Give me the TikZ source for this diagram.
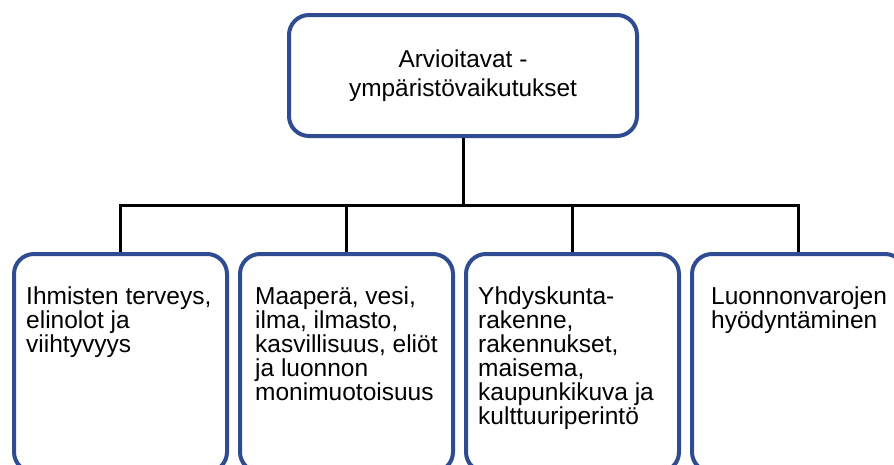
\documentclass[tikz,border=0pt]{standalone}
\usepackage{fontspec}
\setmainfont{Liberation Sans}
\usetikzlibrary{positioning}
\definecolor{boxblue}{RGB}{47,75,145}
\newcommand{\boxwidth}{213pt}
\newcommand{\boxheight}{218pt}
\tikzset{
    topbox/.style = { draw=boxblue, line width=4pt, rectangle, align=center,
        rounded corners=20pt, fill=white,
        minimum width=348pt, minimum height=121pt,
        font=\fontsize{24.4}{28.5}\selectfont
    },
    areabox/.style = { draw=boxblue, line width=4pt, rectangle,
        rounded corners=20pt, fill=white,
        node distance=9pt,
        minimum width=\boxwidth, minimum height=\boxheight
    },
    areatext/.style = { anchor=north west, inner sep=0pt, align=left,
        font=\fontsize{24.5}{24}\selectfont
    },
    link/.style = { line width=3pt, black }
}

\begin{document}
\begin{tikzpicture}[x=1pt,y=-1pt]
        \useasboundingbox (0,0) rectangle (894,464);

        \node[topbox] (arvio) at (463,75.5) {Arvioitavat -\\ympäristövaikutukset};

        % area boxes...
        \node[areabox] (b1) at (120.5,363) {};
        \node[areabox] (b2) [right = of b1] {};
        \node[areabox] (b3) [right = of b2] {};
        \node[areabox] (b4) [right = of b3] {};

        % texts...
        \node[areatext] (t1) at ([xshift=14pt,yshift=-35pt]b1.north west) {Ihmisten terveys,\\elinolot ja\\viihtyvyys};
        \node[areatext] (t2) at ([xshift=17pt,yshift=-35pt]b2.north west) {Maaperä, vesi,\\ilma, ilmasto,\\kasvillisuus, eliöt\\ja luonnon\\monimuotoisuus};
        \node[areatext] (t3) at ([xshift=14pt,yshift=-35pt]b3.north west) {Yhdyskunta-\\rakenne,\\rakennukset,\\maisema,\\kaupunkikuva ja\\kulttuuriperintö};
        \node[areatext] (t4) at ([xshift=21pt,yshift=-35pt]b4.north west) {Luonnonvarojen\\hyödyntäminen};

        % links...
        \path (arvio.south) ++(0,67) coordinate (bus);
        \draw[link] (arvio.south) -- (bus);
        \draw[link] (b1.north) |- (bus) -| (b4.north);
        \draw[link] (b2.north) -- (b2.north |- bus);
        \draw[link] (b3.north) -- (b3.north |- bus);
\end{tikzpicture}
\end{document}
